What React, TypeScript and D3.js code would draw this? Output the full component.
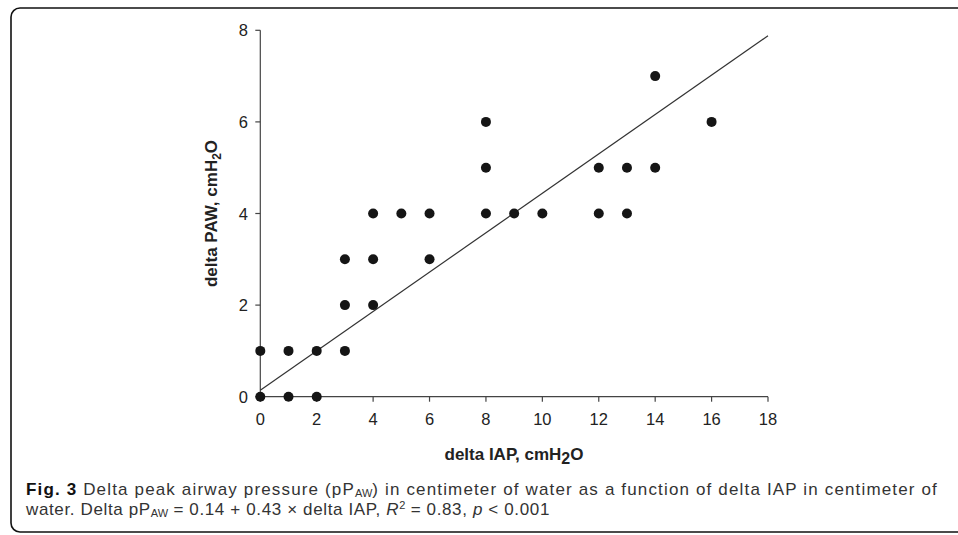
import React, { useLayoutEffect, useRef, useState } from 'react';
import * as d3 from 'd3';

// delta IAP (x) and delta PAW (y) for each patient, cmH2O
const iapDelta = [0, 0, 1, 1, 2, 2, 3, 3, 3, 4, 4, 4, 5, 6, 6, 8, 8, 8, 9, 10, 12, 12, 13, 13, 14, 14, 16];
const pawDelta = [0, 1, 0, 1, 0, 1, 1, 2, 3, 2, 3, 4, 4, 3, 4, 4, 5, 6, 4, 4, 4, 5, 4, 5, 5, 7, 6];

const xTicks = [0, 2, 4, 6, 8, 10, 12, 14, 16, 18];
const yTicks = [0, 2, 4, 6, 8];

// regression: delta pPAW = 0.14 + 0.43 x delta IAP
const intercept = 0.14;
const slope = 0.43;

type Seg = { text: string; bold?: boolean; italic?: boolean; small?: boolean; shift?: number };

// caption pieces, laid out one after the other
const captionLine1: Seg[] = [
  { text: 'Fig. 3', bold: true },
  { text: ' Delta peak airway pressure (pP' },
  { text: 'AW', small: true, shift: 2 },
  { text: ') in centimeter of water as a function of delta IAP in centimeter of' },
];
const captionLine2: Seg[] = [
  { text: 'water. Delta pP' },
  { text: 'AW', small: true, shift: 2 },
  { text: ' = 0.14 + 0.43 × delta IAP, ' },
  { text: 'R', italic: true },
  { text: '2', small: true, shift: -6 },
  { text: ' = 0.83, ' },
  { text: 'p', italic: true },
  { text: ' < 0.001' },
];

const W = 958;
const H = 535;
const captionFont = '"Liberation Sans", Arial, sans-serif';

// lays the pieces side by side and spreads the letters so the line fills `width`
const CaptionLine = ({ segs, x0, y0, width }: { segs: Seg[]; x0: number; y0: number; width: number }) => {
  const refs = useRef<(SVGTextElement | null)[]>([]);
  const [layout, setLayout] = useState<{ xs: number[]; spacing: number } | null>(null);

  useLayoutEffect(() => {
    const widths = segs.map((_, i) => refs.current[i]?.getComputedTextLength() ?? 0);
    const natural = d3.sum(widths);
    const nChars = d3.sum(segs, (s) => (s.small ? 0 : s.text.length));
    const spacing = Math.max(0, (width - natural) / nChars);
    let cur = x0;
    const xs = segs.map((s, i) => {
      const at = cur;
      cur += widths[i] + (s.small ? 0 : spacing * s.text.length);
      return at;
    });
    setLayout({ xs, spacing });
  }, [segs, x0, width]);

  return (
    <g>
      {segs.map((s, i) => (
        <text
          key={i}
          ref={(el) => {
            refs.current[i] = el;
          }}
          x={layout ? layout.xs[i] : x0}
          y={y0 + (s.shift ?? 0)}
          fontFamily={captionFont}
          fontSize={s.small ? 11 : 17}
          fontWeight={s.bold ? 'bold' : 'normal'}
          fontStyle={s.italic ? 'italic' : 'normal'}
          letterSpacing={layout && !s.small ? layout.spacing : 0}
          fill={s.bold ? '#111' : '#333'}
          style={{ whiteSpace: 'pre' }}
        >
          {s.text}
        </text>
      ))}
    </g>
  );
};

const App = () => {
  // scales
  const x = d3.scaleLinear().domain([0, 18]).range([260.3, 768]);
  const y = d3.scaleLinear().domain([0, 8]).range([396.7, 30.3]);

  const fitLine = d3
    .line<number>()
    .x((d) => x(d))
    .y((d) => y(intercept + slope * d));

  const axisColor = '#444';
  const textColor = '#222';
  const tickFont = 'Arial, "Liberation Sans", sans-serif';

  return (
    <svg
      width={W}
      height={H}
      style={{ position: 'absolute', left: 0, top: 0, background: '#fff' }}
    >
      {/* figure frame */}
      <rect x={11} y={8} width={1000} height={524} rx={9} fill="none" stroke="#111" strokeWidth={1.6} />

      {/* axes */}
      <line x1={x(0)} x2={x(18)} y1={y(0)} y2={y(0)} stroke={axisColor} strokeWidth={1.2} />
      <line x1={x(0)} x2={x(0)} y1={y(0)} y2={y(8)} stroke={axisColor} strokeWidth={1.2} />

      {xTicks.map((t) => (
        <g key={'x' + t}>
          <line x1={x(t)} x2={x(t)} y1={y(0)} y2={y(0) + 5} stroke={axisColor} strokeWidth={1.2} />
          <text x={x(t)} y={425} textAnchor="middle" fontFamily={tickFont} fontSize={16.5} fill={textColor}>
            {t}
          </text>
        </g>
      ))}

      {yTicks.map((t) => (
        <g key={'y' + t}>
          <line x1={x(0) - 5} x2={x(0)} y1={y(t)} y2={y(t)} stroke={axisColor} strokeWidth={1.2} />
          <text x={248} y={y(t) + 6} textAnchor="end" fontFamily={tickFont} fontSize={16.5} fill={textColor}>
            {t}
          </text>
        </g>
      ))}

      {/* regression line */}
      <path d={fitLine([0, 18]) ?? ''} fill="none" stroke="#333" strokeWidth={1.2} />

      {/* points */}
      {iapDelta.map((v, i) => (
        <circle key={i} cx={x(v)} cy={y(pawDelta[i])} r={5} fill="#151515" />
      ))}

      {/* axis titles */}
      <text
        x={514}
        y={460}
        textAnchor="middle"
        fontFamily={tickFont}
        fontWeight="bold"
        fontSize={17}
        fill={textColor}
      >
        delta IAP, cmH<tspan dy={4} fontSize={16}>2</tspan>
        <tspan dy={-4}>O</tspan>
      </text>

      <text
        transform={`translate(217,${y(4)}) rotate(-90)`}
        textAnchor="middle"
        fontFamily={tickFont}
        fontWeight="bold"
        fontSize={17}
        fill={textColor}
      >
        delta PAW, cmH<tspan dy={4} fontSize={12}>2</tspan>
        <tspan dy={-4}>O</tspan>
      </text>

      {/* caption */}
      <CaptionLine segs={captionLine1} x0={26} y0={495} width={912} />
      <CaptionLine segs={captionLine2} x0={26} y0={515} width={524} />
    </svg>
  );
};

export default App;
